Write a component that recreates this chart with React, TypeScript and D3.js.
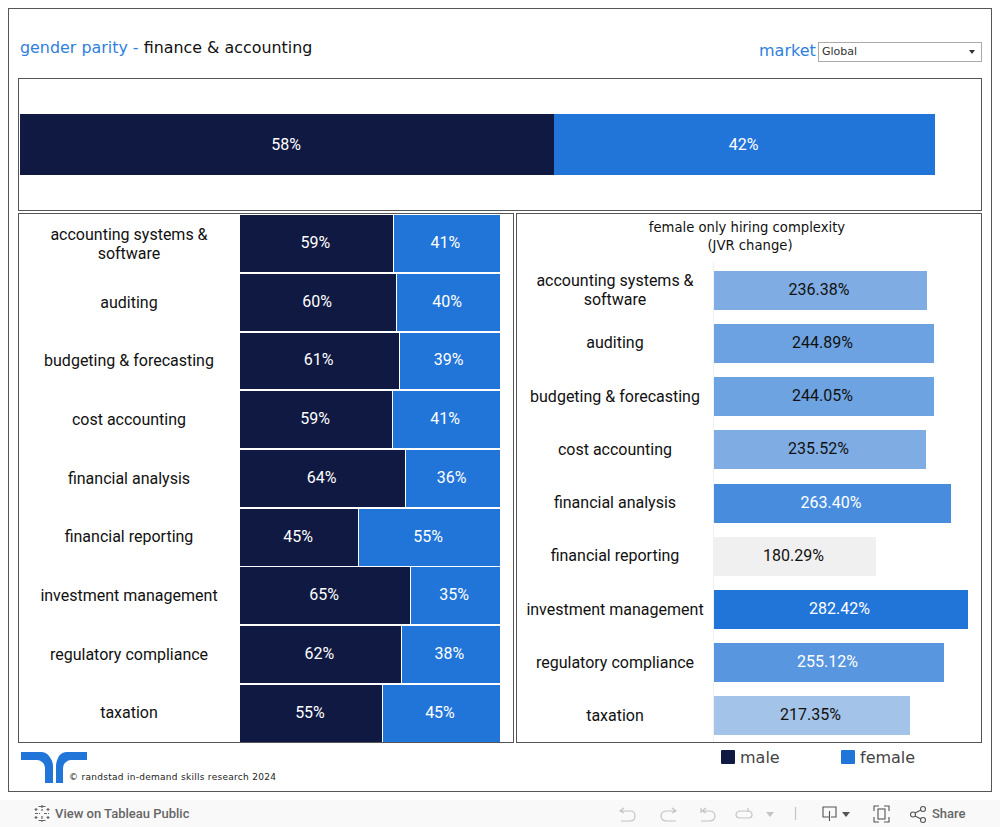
import React from 'react'
import * as d3 from 'd3'

const categories = [
  'accounting systems & software',
  'auditing',
  'budgeting & forecasting',
  'cost accounting',
  'financial analysis',
  'financial reporting',
  'investment management',
  'regulatory compliance',
  'taxation',
]
const maleShare = [58.8, 60, 61.15, 58.6, 63.6, 45.4, 65.4, 61.9, 54.6]
const femaleShare = [41.2, 40, 38.85, 41.4, 36.4, 54.6, 34.6, 38.1, 45.4]
const complexity = [236.38, 244.89, 244.05, 235.52, 263.4, 180.29, 282.42, 255.12, 217.35]
const overall = [58.4, 41.6]

const NAVY = '#0f1941'
const BLUE = '#2175d9'
const BORDER = '#555'
const SANS = '"DejaVu Sans", sans-serif'
const ROBOTO = 'Roboto, sans-serif'

// long names wrap after the ampersand like the tableau labels do
const wrap = (s: string) =>
  s.length > 24 && s.includes(' & ') ? [s.slice(0, s.indexOf(' & ') + 2), s.slice(s.indexOf(' & ') + 3)] : [s]

const Box = ({ x0, y0, x1, y1 }: { x0: number; y0: number; x1: number; y1: number }) => (
  <rect x={x0 + 0.5} y={y0 + 0.5} width={x1 - x0} height={y1 - y0} fill="none" stroke={BORDER} strokeWidth={1} />
)

const RowLabel = ({ cx, cy, off, text }: { cx: number; cy: number; off: number; text: string }) => {
  const lines = wrap(text)
  const extra = lines.length > 1 ? 0.5 : 0
  return (
    <text x={cx} textAnchor="middle" fontFamily={ROBOTO} fontSize={16} fill="#111">
      {lines.map((l, i) => (
        <tspan key={l} x={cx} y={Math.floor(cy + off + extra + (i - (lines.length - 1) / 2) * 19)}>
          {l}
        </tspan>
      ))}
    </text>
  )
}

const Value = ({ x, y, fill, children }: { x: number; y: number; fill: string; children: React.ReactNode }) => (
  <text x={x} y={Math.round(y + 5)} textAnchor="middle" fontFamily={ROBOTO} fontSize={16} fill={fill}>
    {children}
  </text>
)

export default function App() {
  const pct = d3.format('.0f')
  const topX = d3.scaleLinear().domain([0, 100]).range([20, 935])
  const leftX = d3.scaleLinear().domain([0, 100]).range([240, 500])
  const leftY = d3.scaleBand<string>().domain(categories).range([214.3, 742.5]).paddingInner(0.03).paddingOuter(0.015)
  const rightX = d3.scaleLinear().domain([0, 282.42]).range([714, 968.2])
  const rightY = d3
    .scaleBand<string>()
    .domain(categories)
    .range([263.55, 742.62])
    .paddingInner(0.265)
    .paddingOuter(0.1325)
  const shade = d3
    .scalePow<string>()
    .exponent(0.93)
    .domain([d3.min(complexity)!, d3.max(complexity)!])
    .range(['#f0f0f0', BLUE])
  const topSplit = Math.round(topX(overall[0]))

  return (
    <svg width={1000} height={827} style={{ position: 'absolute', left: 0, top: 0, background: '#fff' }}>
      <Box x0={8} y0={8} x1={991} y1={791} />
      <Box x0={18} y0={78} x1={981} y1={210} />
      <Box x0={18} y0={213} x1={513} y1={742} />
      <Box x0={516} y0={213} x1={981} y1={742} />

      <text x={20} y={53} fontFamily={SANS} fontSize={15.9}>
        <tspan fill="#2f7fdc">gender parity - </tspan>
        <tspan fill="#111">finance &amp; accounting</tspan>
      </text>

      <text x={759} y={56} fontFamily={SANS} fontSize={16} fill="#2f7fdc">
        market
      </text>
      <rect x={818.5} y={42.5} width={163} height={19} fill="#fff" stroke="#aaa" />
      <text x={822} y={55} fontFamily={SANS} fontSize={11} fill="#333">
        Global
      </text>
      <path d="M969 50 H975 L972 54 Z" fill="#333" />

      {/* overall split */}
      <rect x={topX(0)} y={114} width={topSplit - topX(0)} height={61} fill={NAVY} />
      <rect x={topSplit} y={114} width={topX(100) - topSplit} height={61} fill={BLUE} />
      <Value x={topX(overall[0] / 2) - 1} y={144.5} fill="#fff">
        {pct(overall[0])}%
      </Value>
      <Value x={topX(overall[0] + overall[1] / 2) - 1} y={144.5} fill="#fff">
        {pct(overall[1])}%
      </Value>

      {/* share per skill */}
      {categories.map((c, i) => {
        const y = Math.round(leftY(c)!)
        const h = Math.round(leftY(c)! + leftY.bandwidth()) - y
        const split = Math.round(leftX(maleShare[i]))
        return (
          <g key={c}>
            <RowLabel cx={129} cy={leftY(c)! + leftY.bandwidth() / 2} off={5.8} text={c} />
            <rect x={leftX(0)} y={y} width={split - leftX(0)} height={h} fill={NAVY} />
            <rect x={split + 1} y={y} width={leftX(100) - split - 1} height={h} fill={BLUE} />
            <Value x={leftX(maleShare[i] / 2) - 1} y={y + h / 2 - 1} fill="#fff">
              {pct(maleShare[i])}%
            </Value>
            <Value x={leftX(maleShare[i] + femaleShare[i] / 2) - 1} y={y + h / 2 - 1} fill="#fff">
              {pct(femaleShare[i])}%
            </Value>
          </g>
        )
      })}

      {/* hiring complexity */}
      <text textAnchor="middle" fontFamily={SANS} fontSize={13.2} fill="#111">
        <tspan x={747} y={232}>
          female only hiring complexity
        </tspan>
        <tspan x={750} y={250}>
          (JVR change)
        </tspan>
      </text>
      <line x1={713.5} x2={713.5} y1={263} y2={742} stroke="#f0f0f0" />
      {categories.map((c, i) => {
        const y = Math.round(rightY(c)!)
        const h = Math.round(rightY.bandwidth())
        const v = complexity[i]
        const end = Math.round(rightX(v))
        return (
          <g key={c}>
            <RowLabel cx={615} cy={rightY(c)! + rightY.bandwidth() / 2} off={5.5} text={c} />
            <rect x={rightX(0)} y={y} width={end - rightX(0)} height={h} fill={shade(v)} />
            <Value x={(rightX(0) + end) / 2 - 1.5} y={y + h / 2 - 1} fill={v > 250 ? '#fff' : '#111'}>
              {v.toFixed(2)}%
            </Value>
          </g>
        )
      })}

      {/* logo and footer */}
      <path
        d="M21 752 H41 Q46 752 49 756 L51 759 Q53 762 53 766 V783 H45 V769 Q45 764 42 762 Q40 760 37 760 H21 Z M87 752 H67 Q62 752 59 756 L58 758 Q56 762 56 766 V783 H63 V769 Q63 764 66 762 Q68 760 71 760 H87 Z"
        fill={BLUE}
      />
      <text x={69} y={780} fontFamily={SANS} fontSize={9} letterSpacing={0.28} fill="#222">
        © randstad in-demand skills research 2024
      </text>

      {/* legend */}
      <rect x={721} y={750} width={14} height={14} rx={1} fill={NAVY} />
      <text x={740} y={763} fontFamily={SANS} fontSize={16} fill="#444">
        male
      </text>
      <rect x={841} y={750} width={14} height={14} rx={1} fill={BLUE} />
      <text x={860} y={763} fontFamily={SANS} fontSize={16} fill="#444">
        female
      </text>

      {/* tableau toolbar */}
      <rect x={0} y={800} width={1000} height={27} fill="#f9f9f9" />
      <g stroke="#666" fill="none" strokeWidth={1.2}>
        <path d="M42 805 V811 M42 816 V822 M35 813.5 H40 M44 813.5 H49 M36 808 V811 M48 808 V811 M36 816 V819 M48 816 V819 M34.5 809.5 H37.5 M46.5 809.5 H49.5 M34.5 817.5 H37.5 M46.5 817.5 H49.5 M38.5 806.5 H45.5 M38.5 820.5 H45.5" strokeDasharray="3 1" />
      </g>
      <text x={55} y={818} fontFamily={ROBOTO} fontSize={13} fontWeight={500} fill="#666">
        View on Tableau Public
      </text>
      <g stroke="#c4c4c4" fill="none" strokeWidth={1.2}>
        <path d="M621 811 H630 Q635 811 635 816 Q635 821 630 821 H621 M624 808 L620 811 L624 813" />
        <path d="M676 811 H667 Q661 811 661 816 Q661 821 667 821 H676 M672 808 L676 811 L672 813" />
        <path d="M702 811 H709 Q715 811 715 816 Q715 821 709 821 H701 M706 808 L702 811 L706 813 M701 808 V813" />
        <path d="M748 811 H741 Q736 811 736 815 Q736 818 741 818 H748 Q752 818 752 815 Q752 811 748 811 M748 808 V812" />
        <path d="M795.5 807 V820" />
      </g>
      <path d="M766 812 H774 L770 817 Z" fill="#c4c4c4" />
      <g stroke="#555" fill="none" strokeWidth={1.1}>
        <path d="M829 817 H823 V807 H836 V817 H831 M829.5 811 V821" />
        <path d="M874 811 V806 H879 M884 806 H889 V811 M889 817 V822 H884 M879 822 H874 V817" />
        <rect x={878} y={809} width={7} height={10} />
        <circle cx={913} cy={814.5} r={2.5} />
        <circle cx={923} cy={809} r={2.5} />
        <circle cx={923} cy={820} r={2.5} />
        <path d="M915 813 L921 810 M915 816 L921 819" />
      </g>
      <path d="M842 812 H850 L846 817 Z" fill="#555" />
      <text x={932} y={818} fontFamily={ROBOTO} fontSize={13} fontWeight={500} fill="#666">
        Share
      </text>
    </svg>
  )
}
